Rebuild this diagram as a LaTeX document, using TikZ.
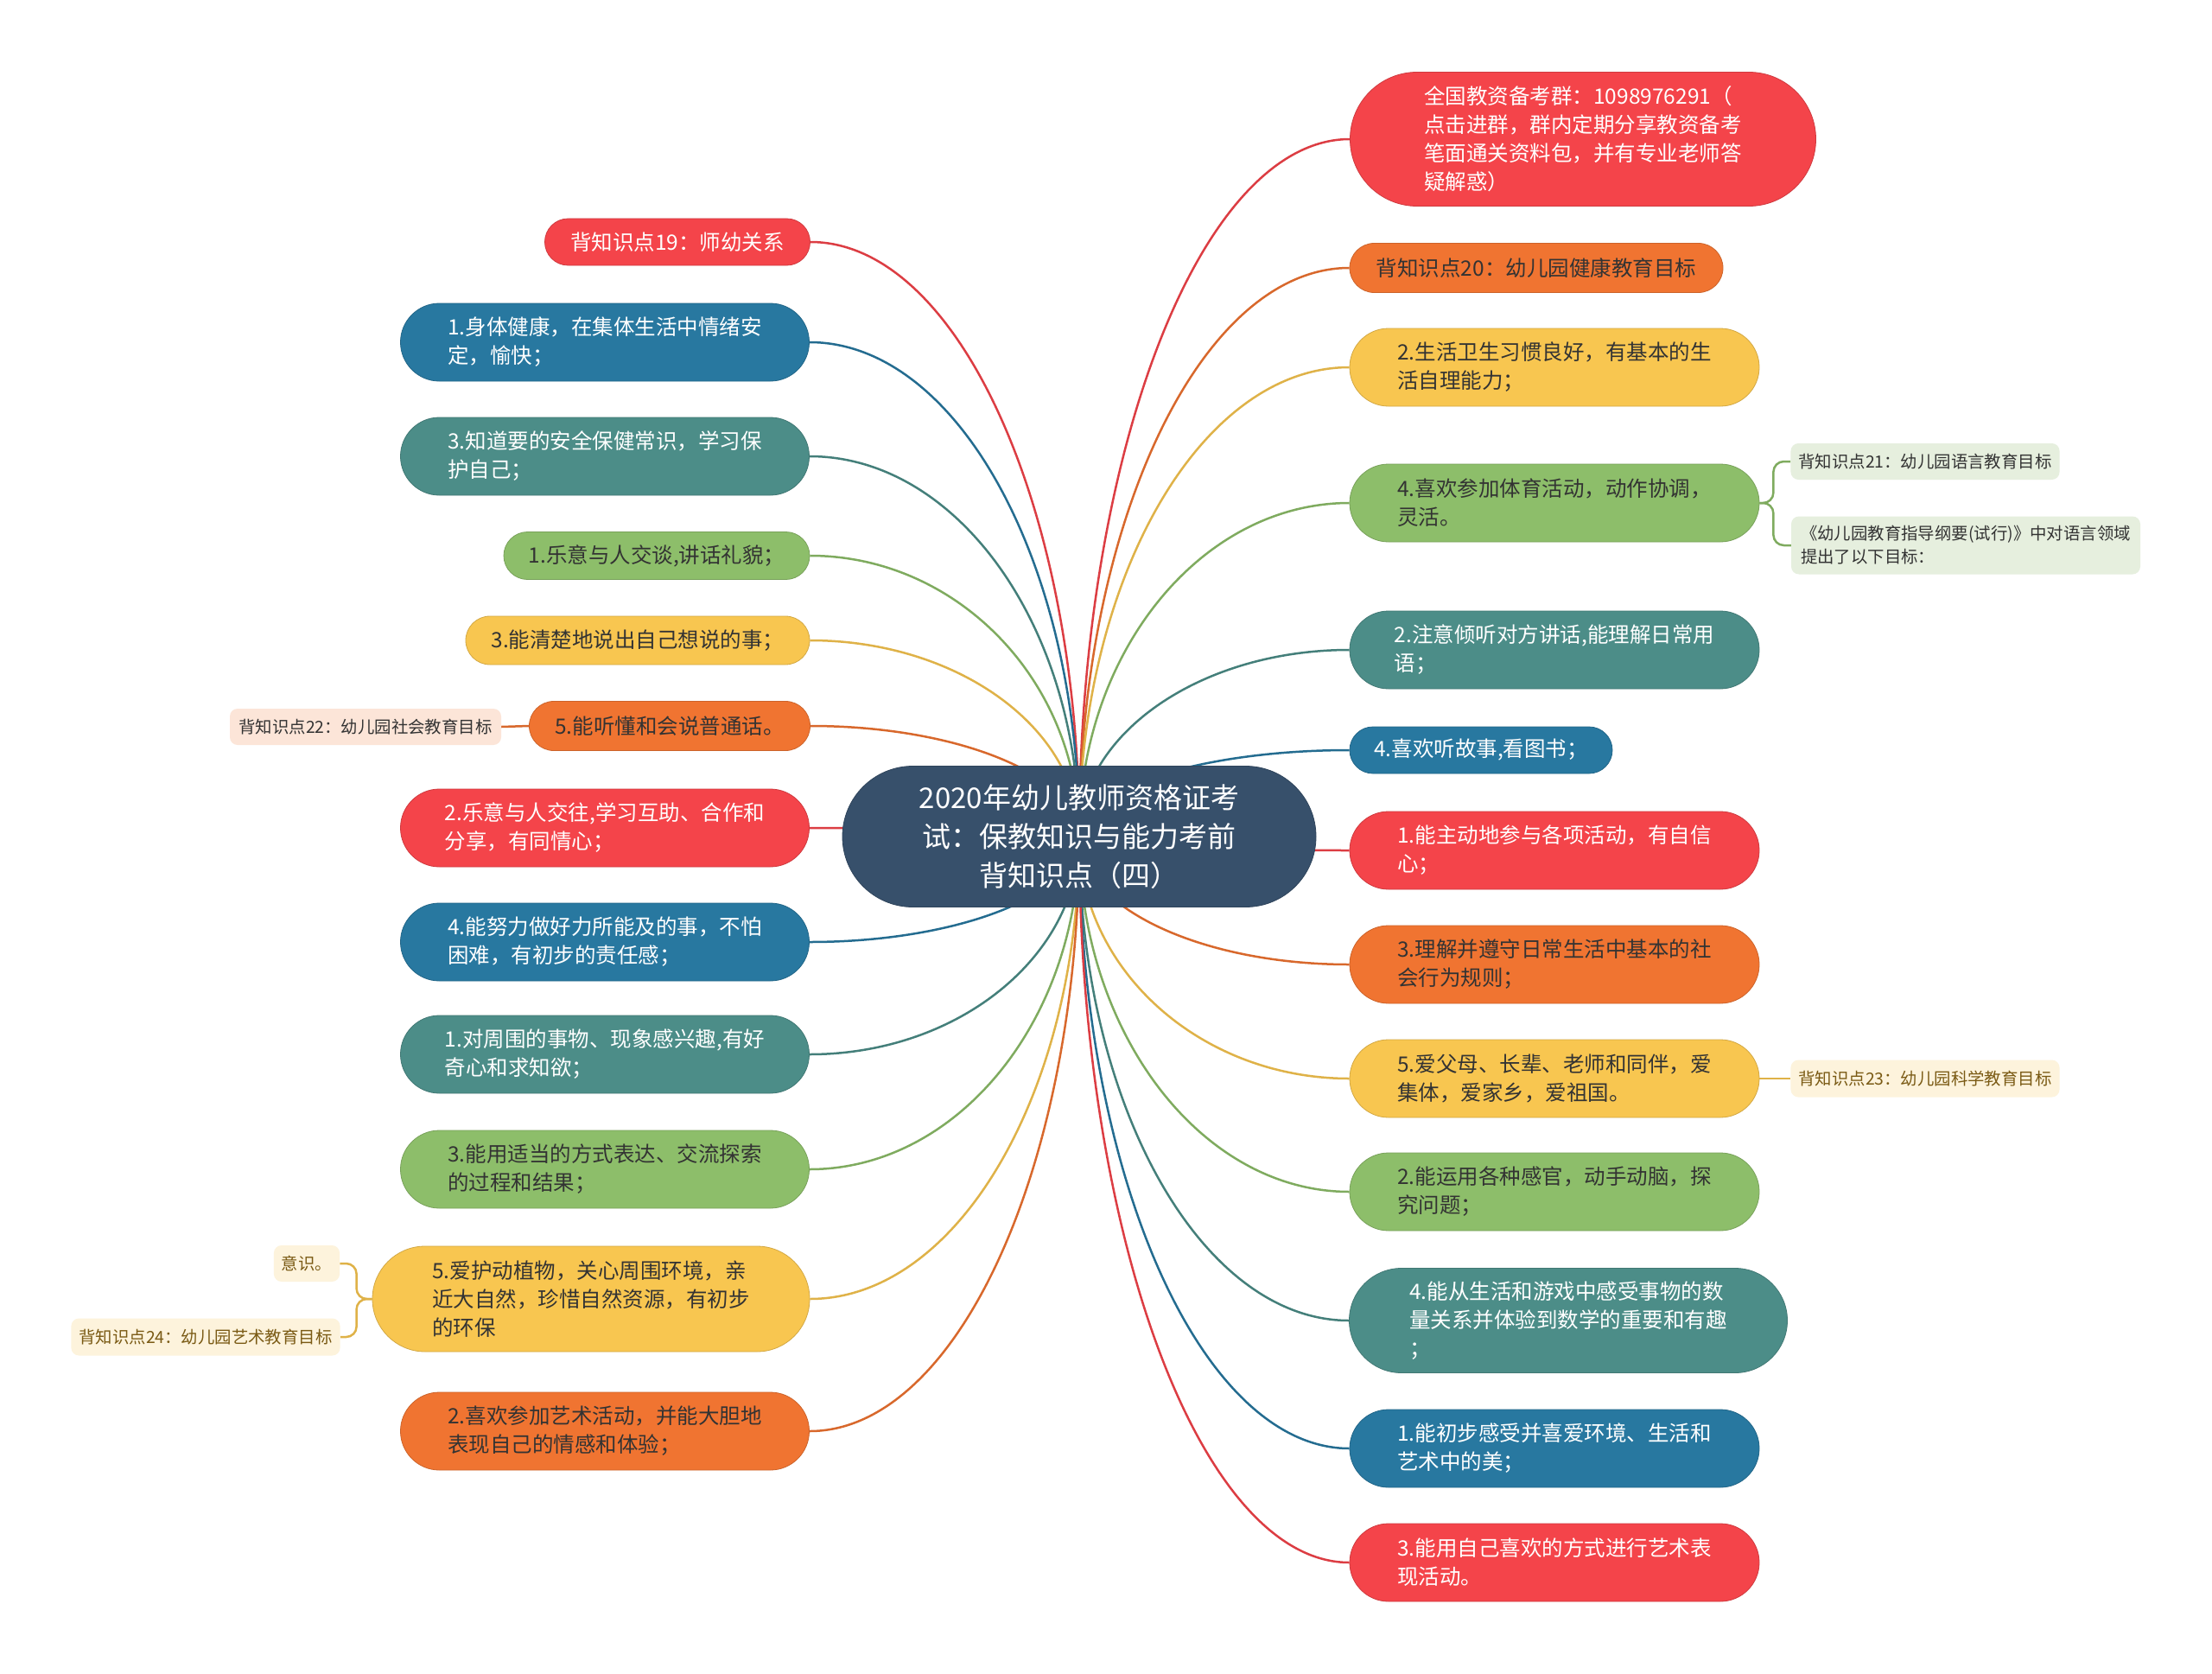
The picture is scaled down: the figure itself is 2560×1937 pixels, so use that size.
\documentclass[tikz,border=0pt]{standalone}
\usepackage{fontspec}
\setmainfont{Noto Sans CJK SC}
\usepackage{xcolor}
\usepackage{tikz}
\usetikzlibrary{calc,backgrounds}
\definecolor{rosso}{HTML}{F4444A}
\definecolor{arancio}{HTML}{F07431}
\definecolor{giallo}{HTML}{F8C650}
\definecolor{verde}{HTML}{8DBE6A}
\definecolor{ottanio}{HTML}{4C8D88}
\definecolor{blu}{HTML}{2878A0}
\definecolor{notte}{HTML}{37506B}
\definecolor{inchiostro}{HTML}{333333}
\definecolor{bruno}{HTML}{7A5A14}
\definecolor{verdino}{HTML}{E6EFDE}
\definecolor{pesca}{HTML}{FCE5D8}
\definecolor{crema}{HTML}{FDF3DC}
\newcommand{\testo}{\fontsize{24.5}{33}\selectfont}
\newcommand{\titolo}{\fontsize{33}{45}\selectfont}
\newcommand{\piccolo}{\fontsize{19.4}{27}\selectfont}
% ramo curvo dal centro al nodo
\newcommand{\collega}[3]{%
  \draw[#1!90!black, filo] let \p1=(radice.center), \p2=(#2.#3) in
    (\p1) .. controls (\x1,{\y1+0.55*(\y2-\y1)}) and ({\x2-0.55*(\x2-\x1)},\y2) .. (\p2);}
\tikzset{
  ramo/.style 2 args={rectangle, fill=#1, draw=#1!85!black, line width=0.8pt,
    text=#2, font=\testo, align=left, inner sep=0pt},
  pill/.style 2 args={minimum width=#1pt, minimum height=#2pt, rounded corners=#2/2*1pt},
  foglia/.style 2 args={rectangle, fill=#1, text=#2, font=\piccolo, align=left,
    rounded corners=9pt, inner xsep=9pt, inner ysep=0pt},
  filo/.style={line width=2.5pt},
}
\begin{document}
\begin{tikzpicture}[x=1pt, y=-1pt]
        \useasboundingbox (0,0) rectangle (2560,1937);
        \node[ramo={notte}{white}, pill={548}{163}, font=\titolo, align=center] (radice) at (1249,968)
            {2020年幼儿教师资格证考\\试：保教知识与能力考前\\背知识点（四）};
        % destra
        \node[ramo={rosso}{white}, pill={539}{155}] (r1) at (1832,161)
            {全国教资备考群：1098976291（\\点击进群，群内定期分享教资备考\\笔面通关资料包，并有专业老师答\\疑解惑）};
        \node[ramo={arancio}{inchiostro}, pill={432}{57}] (r2) at (1778,310) {背知识点20：幼儿园健康教育目标};
        \node[ramo={giallo}{inchiostro}, pill={474}{90}] (r3) at (1799,425) {2.生活卫生习惯良好，有基本的生\\活自理能力；};
        \node[ramo={verde}{inchiostro}, pill={474}{90}] (r4) at (1799,582) {4.喜欢参加体育活动，动作协调，\\灵活。};
        \node[ramo={ottanio}{white}, pill={474}{90}] (r5) at (1799,752) {2.注意倾听对方讲话,能理解日常用\\语；};
        \node[ramo={blu}{white}, pill={304}{54}] (r6) at (1714,868) {4.喜欢听故事,看图书；};
        \node[ramo={rosso}{white}, pill={474}{90}] (r7) at (1799,984) {1.能主动地参与各项活动，有自信\\心；};
        \node[ramo={arancio}{inchiostro}, pill={474}{90}] (r8) at (1799,1116) {3.理解并遵守日常生活中基本的社\\会行为规则；};
        \node[ramo={giallo}{inchiostro}, pill={474}{90}] (r9) at (1799,1248) {5.爱父母、长辈、老师和同伴，爱\\集体，爱家乡，爱祖国。};
        \node[ramo={verde}{inchiostro}, pill={474}{90}] (r10) at (1799,1379) {2.能运用各种感官，动手动脑，探\\究问题；};
        \node[ramo={ottanio}{white}, pill={507}{121}] (r11) at (1815,1528) {4.能从生活和游戏中感受事物的数\\量关系并体验到数学的重要和有趣\\；};
        \node[ramo={blu}{white}, pill={474}{90}] (r12) at (1799,1676) {1.能初步感受并喜爱环境、生活和\\艺术中的美；};
        \node[ramo={rosso}{white}, pill={474}{90}] (r13) at (1799,1808) {3.能用自己喜欢的方式进行艺术表\\现活动。};
        % sinistra
        \node[ramo={rosso}{white}, pill={307}{54}] (l1) at (784,280) {背知识点19：师幼关系};
        \node[ramo={blu}{white}, pill={473}{90}] (l2) at (700,396) {1.身体健康，在集体生活中情绪安\\定，愉快；};
        \node[ramo={ottanio}{white}, pill={473}{90}] (l3) at (700,528) {3.知道要的安全保健常识，学习保\\护自己；};
        \node[ramo={verde}{inchiostro}, pill={354}{55}] (l4) at (760,643) {1.乐意与人交谈,讲话礼貌；};
        \node[ramo={giallo}{inchiostro}, pill={398}{56}] (l5) at (738,741) {3.能清楚地说出自己想说的事；};
        \node[ramo={arancio}{inchiostro}, pill={325}{57}] (l6) at (775,840) {5.能听懂和会说普通话。};
        \node[ramo={rosso}{white}, pill={473}{90}] (l7) at (700,958) {2.乐意与人交往,学习互助、合作和\\分享，有同情心；};
        \node[ramo={blu}{white}, pill={473}{90}] (l8) at (700,1090) {4.能努力做好力所能及的事，不怕\\困难，有初步的责任感；};
        \node[ramo={ottanio}{white}, pill={473}{90}] (l9) at (700,1220) {1.对周围的事物、现象感兴趣,有好\\奇心和求知欲；};
        \node[ramo={verde}{inchiostro}, pill={473}{90}] (l10) at (700,1353) {3.能用适当的方式表达、交流探索\\的过程和结果；};
        \node[ramo={giallo}{inchiostro}, pill={506}{122}] (l11) at (684,1503) {5.爱护动植物，关心周围环境，亲\\近大自然，珍惜自然资源，有初步\\的环保};
        \node[ramo={arancio}{inchiostro}, pill={473}{90}] (l12) at (700,1656) {2.喜欢参加艺术活动，并能大胆地\\表现自己的情感和体验；};
        % foglie
        \node[foglia={verdino}{inchiostro}, minimum width=310pt, minimum height=42pt] (f21) at (2228,534) {背知识点21：幼儿园语言教育目标};
        \node[foglia={verdino}{inchiostro}, minimum width=404pt, minimum height=67pt] (f21n) at (2275,631) {《幼儿园教育指导纲要(试行)》中对语言领域\\提出了以下目标：};
        \node[foglia={pesca}{inchiostro}, minimum width=314pt, minimum height=42pt] (f22) at (423,841) {背知识点22：幼儿园社会教育目标};
        \node[foglia={crema}{bruno}, minimum width=310pt, minimum height=43pt] (f23) at (2228,1248) {背知识点23：幼儿园科学教育目标};
        \node[foglia={crema}{bruno}, minimum width=75pt, minimum height=42pt] (f24n) at (355,1462) {意识。};
        \node[foglia={crema}{bruno}, minimum width=310pt, minimum height=43pt] (f24) at (238,1547) {背知识点24：幼儿园艺术教育目标};
        \begin{pgfonlayer}{background}
        \fill[white] (0,0) rectangle (2560,1937);
        \collega{rosso}{r1}{west}
        \collega{arancio}{r2}{west}
        \collega{giallo}{r3}{west}
        \collega{verde}{r4}{west}
        \collega{ottanio}{r5}{west}
        \collega{blu}{r6}{west}
        \collega{rosso}{r7}{west}
        \collega{arancio}{r8}{west}
        \collega{giallo}{r9}{west}
        \collega{verde}{r10}{west}
        \collega{ottanio}{r11}{west}
        \collega{blu}{r12}{west}
        \collega{rosso}{r13}{west}
        \collega{rosso}{l1}{east}
        \collega{blu}{l2}{east}
        \collega{ottanio}{l3}{east}
        \collega{verde}{l4}{east}
        \collega{giallo}{l5}{east}
        \collega{arancio}{l6}{east}
        \collega{rosso}{l7}{east}
        \collega{blu}{l8}{east}
        \collega{ottanio}{l9}{east}
        \collega{verde}{l10}{east}
        \collega{giallo}{l11}{east}
        \collega{arancio}{l12}{east}
        % parentesi verso le foglie
        \draw[verde!90!black, filo, rounded corners=12pt] (r4.east) -- ++(16,0) |- (f21.west);
        \draw[verde!90!black, filo, rounded corners=12pt] (r4.east) -- ++(16,0) |- (f21n.west);
        \draw[giallo!90!black, filo] (r9.east) -- (f23.west);
        \draw[arancio!90!black, filo] (l6.west) -- (f22.east);
        \draw[giallo!90!black, filo, rounded corners=12pt] (l11.west) -- ++(-18,0) |- (f24n.east);
        \draw[giallo!90!black, filo, rounded corners=12pt] (l11.west) -- ++(-18,0) |- (f24.east);
        \end{pgfonlayer}
    \end{tikzpicture}
\end{document}
